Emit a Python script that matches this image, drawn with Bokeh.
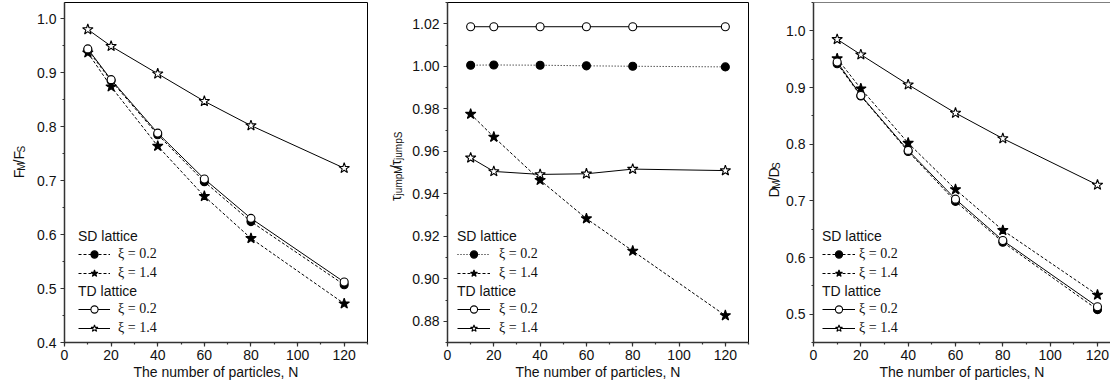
import math
from bokeh.plotting import figure
from bokeh.layouts import row
from bokeh.models import (Range1d, SingleIntervalTicker, NumeralTickFormatter, Legend,
                          LegendItem, Span)
from bokeh.core.properties import value
from bokeh.embed import file_html
from bokeh.resources import INLINE

# ---------------- data ----------------
N = [10, 20, 40, 60, 80, 120]

F_SD_02 = [0.942, 0.885, 0.785, 0.698, 0.624, 0.507]
F_SD_14 = [0.937, 0.874, 0.764, 0.671, 0.593, 0.472]
F_TD_02 = [0.944, 0.887, 0.788, 0.703, 0.630, 0.512]
F_TD_14 = [0.980, 0.949, 0.898, 0.847, 0.802, 0.723]

T_SD_02 = [1.0005, 1.0006, 1.0005, 1.0002, 1.0000, 0.9997]
T_SD_14 = [0.9775, 0.9667, 0.9464, 0.9283, 0.9131, 0.8827]
T_TD_02 = [1.0186, 1.0186, 1.0186, 1.0186, 1.0186, 1.0186]
T_TD_14 = [0.9569, 0.9505, 0.9491, 0.9494, 0.9516, 0.9509]

D_SD_02 = [0.942, 0.885, 0.787, 0.699, 0.627, 0.508]
D_SD_14 = [0.951, 0.898, 0.802, 0.720, 0.648, 0.534]
D_TD_02 = [0.945, 0.886, 0.789, 0.703, 0.630, 0.513]
D_TD_14 = [0.985, 0.958, 0.905, 0.855, 0.810, 0.728]

XLABEL = "The number of particles, N"
YLABEL_F = [("F", False), ("M", True), ("/F", False), ("S", True)]
YLABEL_T = [("τ", False), ("jumpM", True), ("/τ", False), ("jumpS", True)]
YLABEL_D = [("D", False), ("M", True), ("/D", False), ("S", True)]
LEG_SD = "SD lattice"
LEG_TD = "TD lattice"
LEG_02 = "ξ = 0.2"
LEG_14 = "ξ = 1.4"

SANS = "Liberation Sans"
SERIF = "Liberation Serif"
H = 387

EM = {"F": 0.611, "M": 0.833, "S": 0.667, "D": 0.722, "/": 0.278, "j": 0.222,
      "u": 0.556, "m": 0.833, "p": 0.556, "τ": 0.46}


def text_w(t, fs):
    return sum(EM.get(c, 0.55) for c in t) * fs


def make_fig(width, bl, br, xend, yr, yint, yfmt):
    p = figure(width=width, height=H, x_range=Range1d(0, xend), y_range=Range1d(*yr),
               output_backend="svg", toolbar_location=None,
               min_border_left=bl, min_border_right=br, min_border_top=2, min_border_bottom=45)
    p.grid.visible = False
    p.outline_line_color = "black"
    p.outline_line_width = 1
    p.background_fill_color = "white"
    p.border_fill_color = "white"
    p.xaxis.ticker = SingleIntervalTicker(interval=20, num_minor_ticks=2)
    p.yaxis.ticker = SingleIntervalTicker(interval=yint, num_minor_ticks=2)
    p.yaxis.formatter = NumeralTickFormatter(format=yfmt)
    for ax in (p.xaxis[0], p.yaxis[0]):
        ax.axis_line_color = "#333333"
        ax.axis_line_width = 1.5
        ax.major_tick_line_color = "#333333"
        ax.minor_tick_line_color = "#333333"
        ax.major_tick_line_width = 1.2
        ax.minor_tick_line_width = 1.2
        ax.major_tick_out = 4
        ax.major_tick_in = 0
        ax.minor_tick_out = 2
        ax.minor_tick_in = 0
        ax.major_label_text_font = SANS
        ax.major_label_text_font_size = "14px"
        ax.major_label_text_color = "#111111"
    p.xaxis.major_label_standoff = 3
    p.yaxis.major_label_standoff = 4
    p.yaxis.axis_label_standoff = 0
    p.xaxis.axis_label = XLABEL
    p.xaxis.axis_label_text_font = SANS
    p.xaxis.axis_label_text_font_size = "14px"
    p.xaxis.axis_label_text_font_style = "normal"
    p.xaxis.axis_label_text_color = "#111111"
    p.xaxis.axis_label_standoff = 1
    return p


def label_fig(width, bx, bottom, parts):
    """Narrow figure holding a rotated y-axis title with subscripts."""
    f = figure(width=width, height=H, x_range=Range1d(0, width), y_range=Range1d(0, H),
               output_backend="svg", toolbar_location=None, min_border=0,
               x_axis_location=None, y_axis_location=None)
    f.grid.visible = False
    f.outline_line_color = None
    y = H - bottom
    for txt, sub in parts:
        fs = 10 if sub else 14
        f.text(x=[bx + (3 if sub else 0)], y=[y], text=[txt], angle=math.pi / 2,
               text_font=value(SANS), text_font_size=f"{fs}px", text_color="#111111",
               text_align="left", text_baseline="alphabetic")
        y += text_w(txt, fs)
    return f


def series(p, y, marker, filled, dash, size):
    lr = p.line(N, y, line_color="black", line_width=1, line_dash=dash)
    sr = p.scatter(N, y, marker=marker, size=size, line_color="black", line_width=1.1,
                   fill_color="black" if filled else "white")
    return [lr, sr]


def legends(p, sd02, sd14, td02, td14, lx, gw, so):
    common = dict(title_text_font=SANS, title_text_font_size="14px",
                  title_text_font_style="normal", title_text_color="#111111",
                  label_text_font=SERIF, label_text_font_size="14px",
                  label_text_color="#111111",
                  glyph_width=gw, glyph_height=18, label_height=18, spacing=1,
                  label_standoff=so, padding=0, margin=0, title_standoff=1,
                  border_line_alpha=0, background_fill_alpha=0)
    l1 = Legend(items=[LegendItem(label=LEG_02, renderers=sd02),
                       LegendItem(label=LEG_14, renderers=sd14)],
                title=LEG_SD, location=(lx, 60), **common)
    l2 = Legend(items=[LegendItem(label=LEG_02, renderers=td02),
                       LegendItem(label=LEG_14, renderers=td14)],
                title=LEG_TD, location=(lx, 5), **common)
    p.add_layout(l1)
    p.add_layout(l2)


# ---------------- panel 1 ----------------
l1f = label_fig(28, 18, 200, YLABEL_F)
p1 = make_fig(347, 36, 8, 130, (0.4, 1.03), 0.1, "0.0")
a = series(p1, F_SD_02, "circle", True, "3 2", 8)
b = series(p1, F_SD_14, "star", True, "3 2", 11)
c = series(p1, F_TD_02, "circle", False, "solid", 8)
d = series(p1, F_TD_14, "star", False, "solid", 11)
legends(p1, a, b, c, d, 14, 32, 8)

# ---------------- panel 2 ----------------
l2f = label_fig(34, 20, 226, YLABEL_T)
p2 = make_fig(346, 37, 7, 130, (0.87, 1.03), 0.02, "0.00")
a = series(p2, T_SD_02, "circle", True, "1 2", 8)
b = series(p2, T_SD_14, "star", True, "3 2", 11)
c = series(p2, T_TD_02, "circle", False, "solid", 8)
d = series(p2, T_TD_14, "star", False, "solid", 11)
legends(p2, a, b, c, d, 10, 33, 9)

# ---------------- panel 3 ----------------
l3f = label_fig(28, 18, 222, YLABEL_D)
p3 = make_fig(327, 30, 0, 125.5, (0.45, 1.05), 0.1, "0.0")
p3.outline_line_color = None
p3.add_layout(Span(location=1.05, dimension="width", line_color="black", line_width=1))
a = series(p3, D_SD_02, "circle", True, "3 2", 8)
b = series(p3, D_SD_14, "star", True, "3 2", 11)
c = series(p3, D_TD_02, "circle", False, "solid", 8)
d = series(p3, D_TD_14, "star", False, "solid", 11)
legends(p3, a, b, c, d, 9, 33, 4)

layout = row(l1f, p1, l2f, p2, l3f, p3)
open("out.html", "w").write(file_html(layout, INLINE))
